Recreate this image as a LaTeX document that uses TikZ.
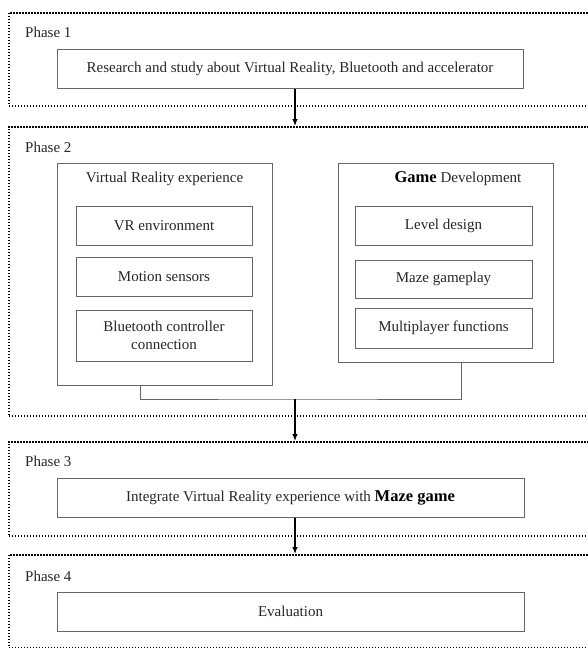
\documentclass[tikz,border=0pt]{standalone}
\usepackage{fontspec}
\setmainfont{Liberation Serif}
\usetikzlibrary{arrows.meta}

\tikzset{
  phasebox/.style={draw=black, line width=1.7pt, dash pattern=on 1.5pt off 1.5pt,
    minimum width=600pt, anchor=north west, inner sep=0pt},
  phaselabel/.style={anchor=west, inner sep=0pt, text=black!85},
  stagebox/.style={draw=black!60, line width=1pt, minimum height=39pt, inner sep=0pt,
    text=black!85, align=center},
  groupbox/.style={draw=black!60, line width=1pt, minimum width=215pt, inner sep=0pt},
  flow/.style={draw=black, line width=1.2pt, -{Latex[length=7pt,width=5.5pt]}},
  link/.style={draw=black!60, line width=1pt}
}

\begin{document}
\begin{tikzpicture}[x=1pt, y=-1pt, font=\fontsize{15}{18.5}\selectfont]
  \useasboundingbox (0,0) rectangle (588,648);

  % phase frames
  \node[phasebox, minimum height=93pt] (phaseone) at (8,12) {};
  \node[phasebox, minimum height=289pt] (phasetwo) at (8,126) {};
  \node[phasebox, minimum height=94pt] (phasethree) at (8,441) {};
  \node[phasebox, minimum height=93pt] (phasefour) at (8,554) {};

  \node[phaselabel] (labelone) at (25,32) {Phase 1};
  \node[phaselabel] (labeltwo) at (25,147) {Phase 2};
  \node[phaselabel] (labelthree) at (25,461) {Phase 3};
  \node[phaselabel] (labelfour) at (25,576) {Phase 4};

  % phase 1
  \node[stagebox, minimum width=466pt] (research) at (290,68.5)
    {Research and study about Virtual Reality, Bluetooth and accelerator};

  % phase 2
  \node[groupbox, minimum height=222pt] (vrexp) at (164.5,274) {};
  \node[text=black!85] (vrtitle) at (164.5,179) {Virtual Reality experience};
  \node[stagebox, minimum width=176pt] (vrenv) at (164,225.5) {VR environment};
  \node[stagebox, minimum width=176pt] (motion) at (164,276.5) {Motion sensors};
  \node[stagebox, minimum width=176pt, minimum height=51pt] (btctrl) at (164,335.5)
    {Bluetooth controller\\connection};

  \node[groupbox, minimum height=199pt] (game) at (445.5,262.5) {};
  \node[text=black!85] (gametitle) at (458,179)
    {{\fontsize{16.5}{18}\selectfont\bfseries\color{black}Game} Development};
  \node[stagebox, minimum width=177pt] (level) at (443.5,225.5) {Level design};
  \node[stagebox, minimum width=177pt, minimum height=38pt] (maze) at (443.5,279) {Maze gameplay};
  \node[stagebox, minimum width=177pt, minimum height=40pt] (multi) at (443.5,328) {Multiplayer functions};

  \coordinate (join) at (295,399);
  \draw[link] ([xshift=-24.5pt]vrexp.south) |- (join) -| ([xshift=15.5pt]game.south);

  % phase 3
  \node[stagebox, minimum width=467pt] (integrate) at (290.5,497.5)
    {Integrate Virtual Reality experience with {\fontsize{16.5}{18}\selectfont\bfseries\color{black}Maze game}};

  % phase 4
  \node[stagebox, minimum width=467pt] (evaluation) at (290.5,611.5) {Evaluation};

  % arrows between phases
  \draw[flow] ([xshift=5pt]research.south) -- ([xshift=5pt]research.south |- phasetwo.north);
  \draw[flow] (join) -- (join |- phasethree.north);
  \draw[flow] ([xshift=4.5pt]integrate.south) -- ([xshift=4.5pt]integrate.south |- phasefour.north);
\end{tikzpicture}
\end{document}
